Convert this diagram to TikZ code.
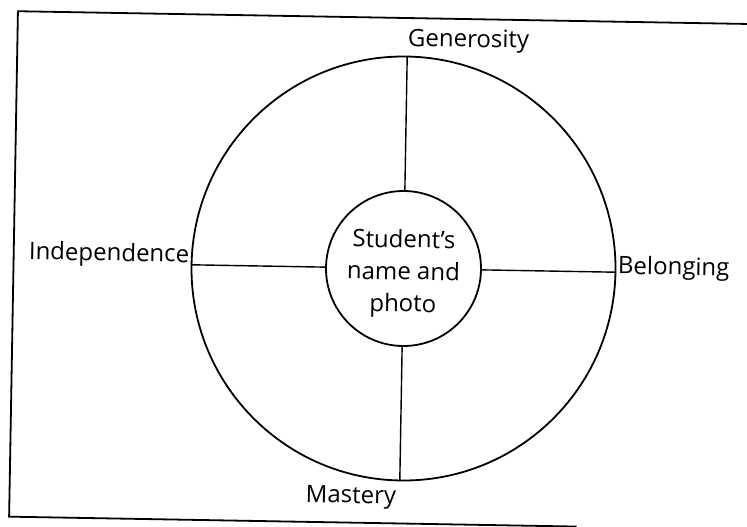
\documentclass[tikz,border=0pt]{standalone}
\usepackage{fontspec}
\setmainfont{Open Sans}
\begin{document}
\begin{tikzpicture}[x=1pt,y=-1pt,
  every node/.style={font=\fontsize{24}{32}\selectfont, inner sep=0pt, outer sep=0pt},
  ring/.style={draw, circle, line width=1.8pt},
  spoke/.style={line width=1.4pt},
  frame/.style={line width=1.8pt, line cap=square}]
\useasboundingbox (0,0) rectangle (747,527);
\clip (0,0) rectangle (747,527);
\begin{scope}[rotate around={-1:(403.5,268.5)}, transform shape]
  % open frame around the wheel
  \coordinate (ftr) at (770,18);
  \coordinate (ftl) at (13.5,18);
  \coordinate (fbl) at (13.5,523.5);
  \coordinate (fbr) at (581,523.5);
  \draw[frame] (ftr) -- (ftl) -- (fbl) -- (fbr);

  % wheel
  \coordinate (c) at (403.5,268.5);
  \node[ring, minimum size=424pt] (outer) at (c) {};
  \node[ring, minimum size=155pt] (hub) at (c) {};
  \node[align=center] (hubtext) at (403.5,273.5) {Student’s\\name and\\photo};

  % spokes
  \draw[spoke] (outer.north) -- (hub.north);
  \draw[spoke] (outer.south) -- (hub.south);
  \draw[spoke] (outer.west) -- (hub.west);
  \draw[spoke] (outer.east) -- (hub.east);

  % labels
  \node[anchor=base west] (gen) at (404,46) {Generosity};
  \node[anchor=base east] (mas) at (400,504) {Mastery};
  \node[anchor=base east] (ind) at (189,266) {Independence};
  \node[anchor=base west] (bel) at (618,270) {Belonging};
\end{scope}
\end{tikzpicture}
\end{document}
